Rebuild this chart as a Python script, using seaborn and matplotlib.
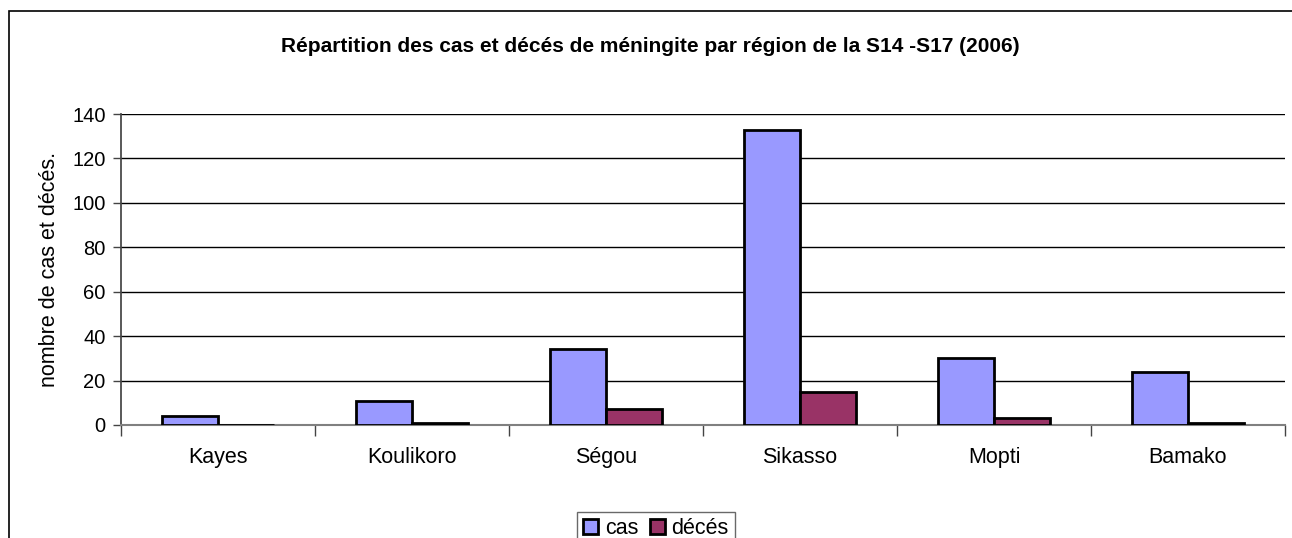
import matplotlib
matplotlib.use("Agg")
import matplotlib.pyplot as plt
import seaborn as sns
import pandas as pd
from matplotlib.patches import Rectangle

regions = ["Kayes", "Koulikoro", "Ségou", "Sikasso", "Mopti", "Bamako"]
cas = [4, 11, 34, 133, 30, 24]
deces = [0, 1, 7, 15, 3, 1]
series = ["cas", "décés"]
colors = ["#9999FF", "#993366"]
yticks = [0, 20, 40, 60, 80, 100, 120, 140]

df = pd.DataFrame({
    "region": regions * 2,
    "serie": [series[0]] * len(regions) + [series[1]] * len(regions),
    "valeur": cas + deces,
})

sns.set_theme(style="white")
plt.rcParams["font.family"] = ["Liberation Sans", "DejaVu Sans"]
plt.rcParams["text.color"] = "black"
plt.rcParams["xtick.color"] = "black"
plt.rcParams["ytick.color"] = "black"
plt.rcParams["axes.labelcolor"] = "black"

fig = plt.figure(figsize=(12.92, 5.38), dpi=100)
ax = fig.add_axes([121 / 1292, 1 - 425 / 538, (1285 - 121) / 1292, (425 - 114) / 538])

sns.barplot(data=df, x="region", y="valeur", hue="serie", order=regions,
            hue_order=series, palette=colors, width=0.58, edgecolor="black",
            linewidth=2.0, saturation=1, ax=ax, zorder=3)

ax.set_ylim(0, 140)
ax.set_xlim(-0.5, len(regions) - 0.5)
ax.set_yticks(yticks)
ax.set_yticklabels([str(v) for v in yticks], fontsize=14.5)
ax.yaxis.grid(True, color="black", linewidth=1.0, zorder=0)
ax.set_axisbelow(True)
ax.tick_params(axis="y", direction="out", length=6, width=1, color="#444444", pad=5, left=True)
ax.tick_params(axis="x", length=0, labelsize=15.5, pad=16)
ax.set_xticks(range(len(regions)))
ax.set_xticklabels(regions)
ax.set_xticks([i - 0.5 for i in range(len(regions) + 1)], minor=True)
ax.tick_params(axis="x", which="minor", direction="out", length=8, width=1, color="#444444", bottom=True)
for s in ["top", "right"]:
    ax.spines[s].set_visible(False)
ax.spines["left"].set_color("#444444")
ax.spines["bottom"].set_color("#808080")
ax.spines["bottom"].set_linewidth(1.5)
ax.set_xlabel("")
ax.set_ylabel("nombre de cas et décés.", fontsize=15.5, labelpad=9)

fig.text(650 / 1292, 1 - 47 / 538, "Répartition des cas et décés de méningite par région de la S14 -S17 (2006)",
         ha="center", va="center", fontsize=15, fontweight="bold")

leg = ax.legend(loc="upper center", bbox_to_anchor=(656 / 1292, 1 - 501 / 538),
                bbox_transform=fig.transFigure, ncol=2, frameon=True, fancybox=False,
                fontsize=15.5, handlelength=0.7, handleheight=0.7, handletextpad=0.3,
                columnspacing=0.55, borderpad=0.3)
leg.get_frame().set_edgecolor("#444444")
leg.get_frame().set_linewidth(1)
for h in leg.legend_handles:
    h.set_edgecolor("black")
    h.set_linewidth(2.0)

fig.patches.append(Rectangle((9 / 1292, -0.1), 1.2, 1 - 11 / 538 + 0.1, transform=fig.transFigure,
                             fill=False, edgecolor="black", linewidth=1.2, zorder=0))

fig.savefig("out.png", dpi=100)
